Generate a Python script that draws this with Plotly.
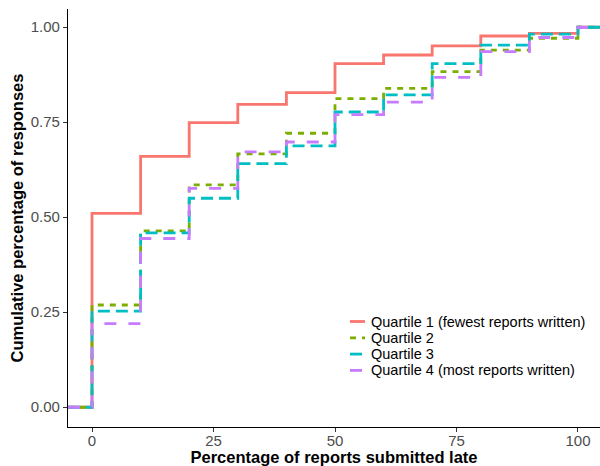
import plotly.graph_objects as go

# ---- data ----
pct_late = [0, 10, 20, 30, 40, 50, 60, 70, 80, 90, 100]
quartile_names = [
    "Quartile 1 (fewest reports written)",
    "Quartile 2",
    "Quartile 3",
    "Quartile 4 (most reports written)",
]
q1 = [0.510, 0.660, 0.749, 0.797, 0.828, 0.904, 0.927, 0.951, 0.977, 0.984, 1.0]
q2 = [0.269, 0.464, 0.585, 0.667, 0.721, 0.812, 0.839, 0.883, 0.940, 0.971, 1.0]
q3 = [0.253, 0.459, 0.550, 0.641, 0.688, 0.777, 0.822, 0.904, 0.953, 0.982, 1.0]
q4 = [0.220, 0.444, 0.576, 0.672, 0.698, 0.770, 0.803, 0.868, 0.936, 0.973, 1.0]
x_ticks = [0, 25, 50, 75, 100]
y_ticks = [0.0, 0.25, 0.5, 0.75, 1.0]
y_tick_labels = ["0.00", "0.25", "0.50", "0.75", "1.00"]

# ---- styling / layout ----
colors = ["#F8766D", "#7CAE00", "#00BFC4", "#C77CFF"]
dashes = ["solid", "6px,6px", "12px,6px", "12px,12px"]
FONT = "Liberation Sans, Arial, sans-serif"
X_RANGE = [-4.94, 104.53]
Y_RANGE = [-0.052, 1.048]
W, H = 600, 466
ML, MR, MT, MB = 68, 0, 9, 39
PW, PH = W - ML - MR, H - MT - MB


def px_to_paper(px, py):
    return (px - ML) / PW, (H - MB - py) / PH


# legend layout (pixels)
LEG_TOP_ROW = 321.5
LEG_ROW_STEP = 16.3
LEG_KEY_X0, LEG_KEY_X1, LEG_TEXT_X = 350, 365, 370
LEG_FONT = 14.5

fig = go.Figure()
for name, vals, col, dash in zip(quartile_names, [q1, q2, q3, q4], colors, dashes):
    # ECDF padded to -Inf / +Inf like stat_ecdf
    xs = [X_RANGE[0]] + pct_late + [X_RANGE[1]]
    ys = [0.0] + vals + [vals[-1]]
    fig.add_trace(go.Scatter(
        x=xs, y=ys, mode="lines", name=name, showlegend=False,
        line=dict(shape="hv", color=col, width=2.8, dash=dash),
        hoverinfo="skip",
    ))

# legend (drawn inside the panel, ggplot-style compact rows)
for i, (name, col, dash) in enumerate(zip(quartile_names, colors, dashes)):
    py = LEG_TOP_ROW + i * LEG_ROW_STEP
    x0, y0 = px_to_paper(LEG_KEY_X0, py)
    x1, _ = px_to_paper(LEG_KEY_X1, py)
    xt, _ = px_to_paper(LEG_TEXT_X, py)
    fig.add_shape(type="line", xref="paper", yref="paper",
                  x0=x0, x1=x1, y0=y0, y1=y0,
                  line=dict(color=col, width=2.8, dash=dash))
    fig.add_annotation(xref="paper", yref="paper", x=xt, y=y0,
                       xanchor="left", yanchor="middle", showarrow=False,
                       borderpad=0,
                       text=name, font=dict(family=FONT, size=LEG_FONT, color="black"))

fig.update_layout(
    width=W, height=H,
    margin=dict(l=ML, r=MR, t=MT, b=MB),
    paper_bgcolor="white", plot_bgcolor="white",
    font=dict(family=FONT, size=15, color="#4D4D4D"),
    showlegend=False,
)
fig.update_xaxes(
    range=X_RANGE, tickvals=x_ticks, ticktext=[str(v) for v in x_ticks],
    showgrid=False, zeroline=False,
    showline=True, linecolor="black", linewidth=1.1,
    ticks="outside", ticklen=4, tickcolor="#333333", tickwidth=1.1,
    ticklabelstandoff=-4,
    tickfont=dict(family=FONT, size=15, color="#4D4D4D"),
    title=dict(text="<b>Percentage of reports submitted late</b>",
               font=dict(family=FONT, size=16.5, color="black"), standoff=7),
    automargin=False,
)
fig.update_yaxes(
    range=Y_RANGE, tickvals=y_ticks, ticktext=y_tick_labels,
    showgrid=False, zeroline=False,
    showline=True, linecolor="black", linewidth=1.1,
    ticks="outside", ticklen=4, tickcolor="#333333", tickwidth=1.1,
    tickfont=dict(family=FONT, size=15, color="#4D4D4D"),
    title=dict(text="<b>Cumulative percentage of responses</b>",
               font=dict(family=FONT, size=16.5, color="black"), standoff=2),
    automargin=False,
)

fig.write_html("out.html")
